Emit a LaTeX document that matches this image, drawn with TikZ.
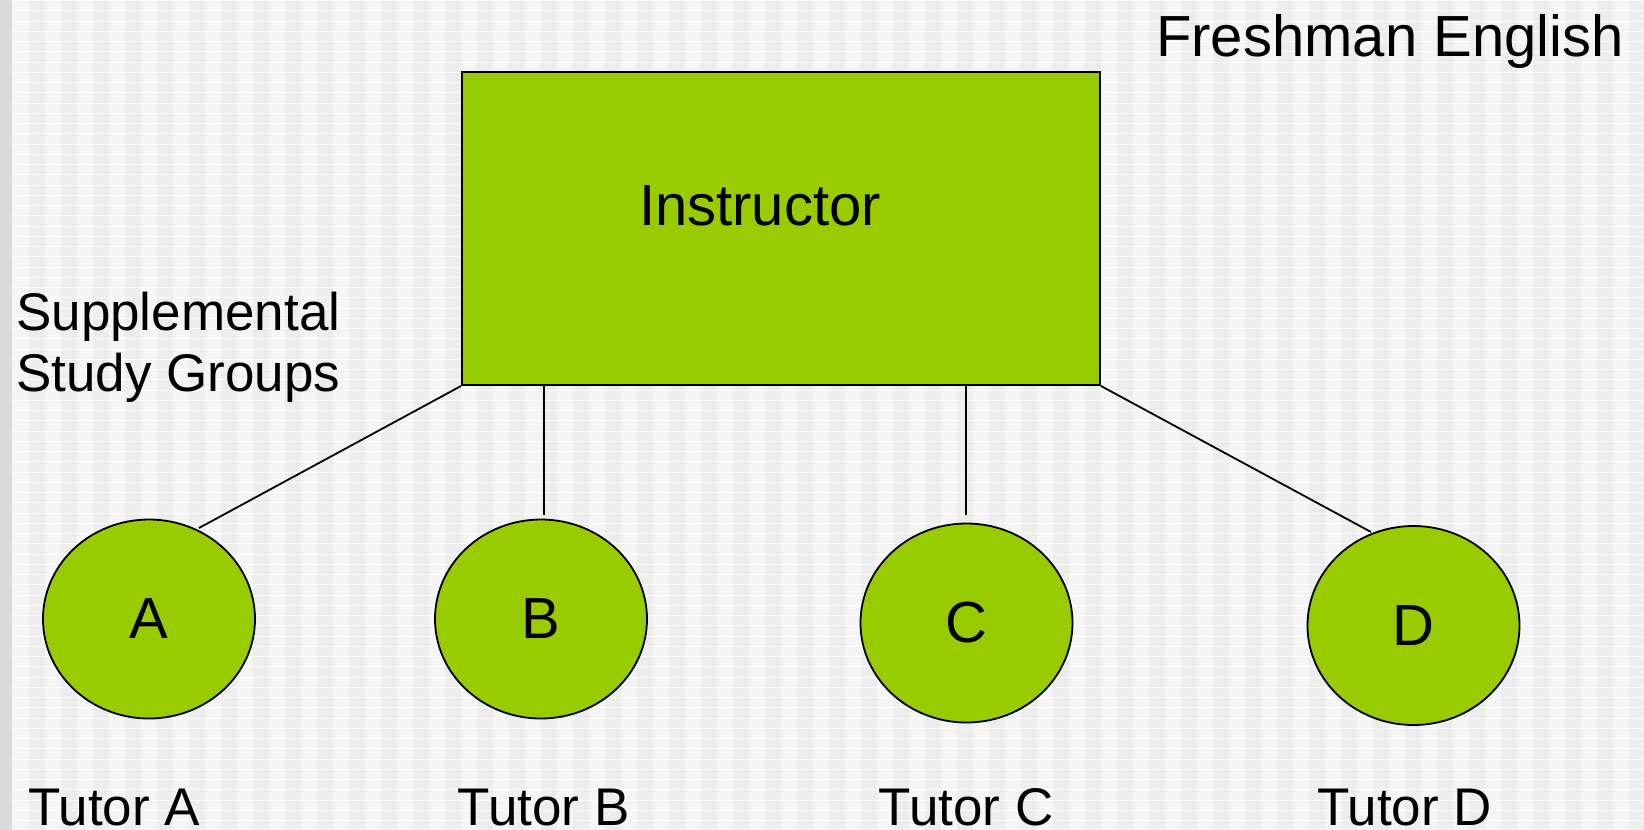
\documentclass[tikz,border=0pt]{standalone}
\usepackage{fontspec}
\setmainfont{Liberation Sans}
\usetikzlibrary{shapes.geometric}
\definecolor{bgbase}{HTML}{F5F5F5}
\definecolor{bgstripe}{HTML}{EDEDED}
\definecolor{bgbar}{HTML}{DADADA}
\definecolor{leaf}{HTML}{99CC00}
\tikzset{
  big/.style={font=\fontsize{58}{70}\selectfont},
  small/.style={font=\fontsize{53}{62}\selectfont},
  instbox/.style={draw=black, line width=2pt, fill=leaf, minimum width=638pt, minimum height=313pt, inner sep=0pt, anchor=north west},
  tutorball/.style={ellipse, draw=black, line width=1.8pt, fill=leaf, minimum width=212pt, minimum height=199pt, inner sep=0pt, big},
  plain/.style={inner sep=0pt, anchor=base west, text=black},
  link/.style={draw=black, line width=1.8pt},
}
\begin{document}
\begin{tikzpicture}[x=1pt,y=-1pt]
\useasboundingbox (0,0) rectangle (1644,830);
% background
\fill[bgbase] (0,0) rectangle (1644,830);
\foreach \i in {0,...,50} {
  \fill[bgstripe] ({29+32*\i},0) rectangle ({45+32*\i},830);
}
\foreach \j in {0,...,81} {
  \draw[white, opacity=0.7, line width=1pt] (12,{0.5+10.25*\j}) -- (1644,{0.5+10.25*\j});
}
\fill[bgbar] (0,0) rectangle (12,830);

% instructor box
\node[instbox] (inst) at (461,71) {};
\node[big, inner sep=0pt, anchor=base] (insttext) at (760,225) {Instructor};

% tutor groups
\node[tutorball] (A) at (149,619) {A};
\node[tutorball] (B) at (541,619) {B};
\node[tutorball] (C) at (966.5,623) {C};
\node[tutorball] (D) at (1413.5,625.5) {D};

% connector ends
\coordinate (aend) at (199,528);
\coordinate (bstart) at (544.3,384);
\coordinate (bend) at (544.3,515);
\coordinate (cstart) at (966.3,384);
\coordinate (cend) at (966.3,515);
\coordinate (dend) at (1371,532);

\draw[link] (inst.south west) -- (aend);
\draw[link] (bstart) -- (bend);
\draw[link] (cstart) -- (cend);
\draw[link] (inst.south east) -- (dend);

% texts
\node[plain, big] (title) at (1156,56) {Freshman English};
\node[plain, small] (ssg1) at (16,330) {Supplemental};
\node[plain, small] (ssg2) at (16,391.5) {Study Groups};
\node[plain, small] (ta) at (28,825) {Tutor A};
\node[plain, small] (tb) at (457.5,825) {Tutor B};
\node[plain, small] (tc) at (878.5,825) {Tutor C};
\node[plain, small] (td) at (1317,825) {Tutor D};
\end{tikzpicture}
\end{document}
